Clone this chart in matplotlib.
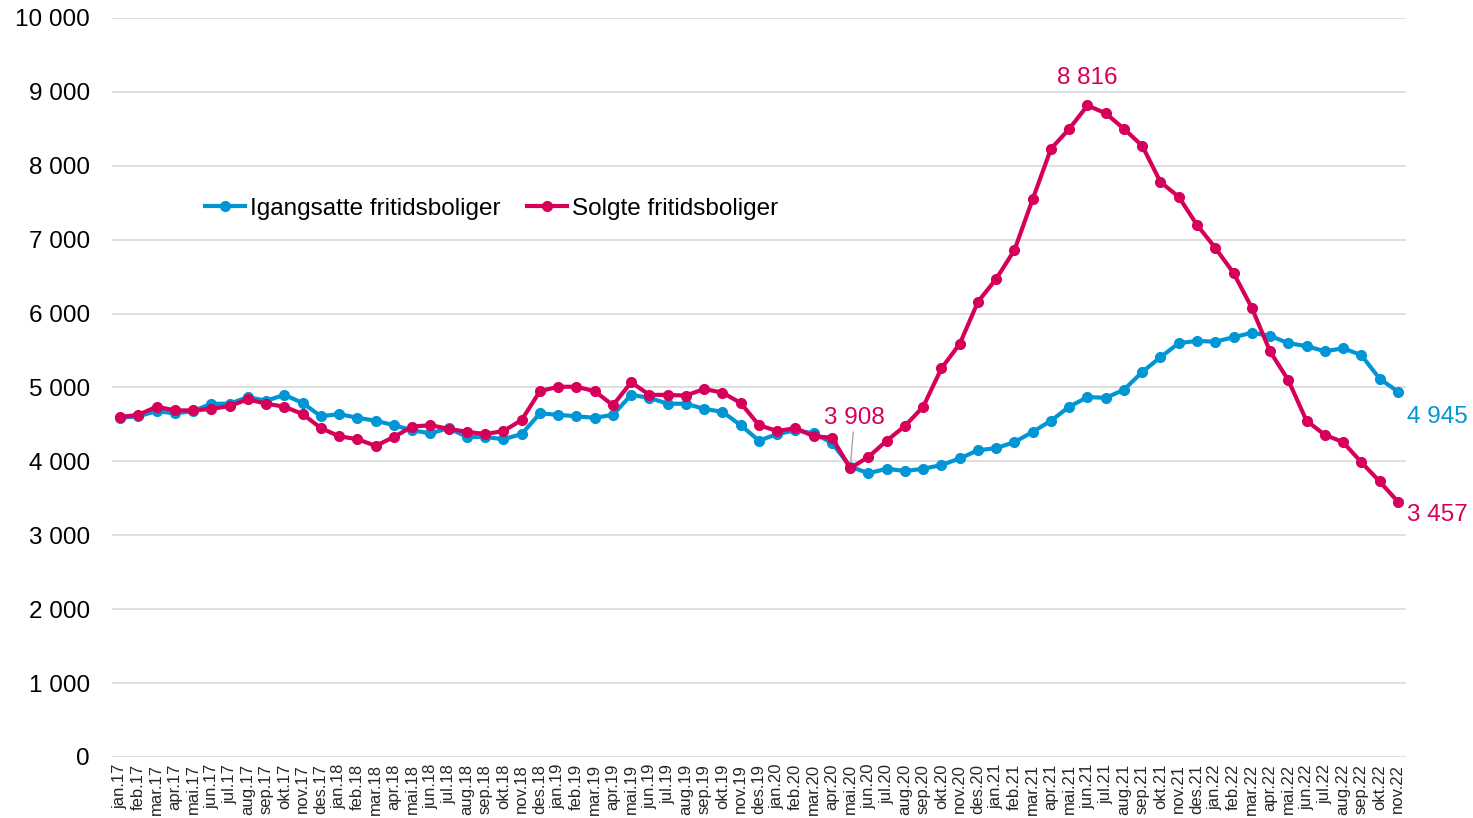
import matplotlib
matplotlib.use("Agg")
import matplotlib.pyplot as plt
from matplotlib.ticker import FuncFormatter

plt.rcParams['font.family'] = ['Liberation Sans', 'DejaVu Sans']

# Månedsetiketter jan.17 - nov.22
mnd = ["jan", "feb", "mar", "apr", "mai", "jun", "jul", "aug", "sep", "okt", "nov", "des"]
labels = [f"{m}.{y}" for y in range(17, 23) for m in mnd][:71]

igangsatte = [4590, 4610, 4680, 4650, 4680, 4780, 4780, 4870, 4820, 4900,
              4790, 4610, 4640, 4590, 4550, 4490, 4420, 4380, 4450, 4330,
              4330, 4300, 4370, 4650, 4630, 4610, 4590, 4630, 4900, 4860,
              4780, 4780, 4710, 4670, 4490, 4280, 4370, 4420, 4380, 4250,
              3930, 3840, 3900, 3870, 3900, 3950, 4040, 4150, 4180, 4260,
              4400, 4550, 4740, 4870, 4860, 4970, 5210, 5410, 5600, 5630,
              5620, 5680, 5740, 5700, 5600, 5560, 5490, 5530, 5440, 5120,
              4945]

solgte = [4600, 4630, 4740, 4690, 4690, 4710, 4750, 4840, 4780, 4740,
          4640, 4450, 4340, 4300, 4210, 4330, 4470, 4490, 4440, 4400,
          4370, 4410, 4560, 4950, 5010, 5010, 4950, 4760, 5070, 4900,
          4900, 4890, 4980, 4930, 4790, 4490, 4410, 4450, 4340, 4320,
          3908, 4060, 4280, 4480, 4740, 5260, 5590, 6160, 6470, 6860,
          7550, 8230, 8500, 8816, 8710, 8500, 8270, 7780, 7580, 7200,
          6890, 6550, 6080, 5490, 5100, 4550, 4360, 4260, 3990, 3730,
          3457]

blaa = "#0096D6"
roed = "#D6005A"
fs = 17.5

fig = plt.figure(figsize=(14.73, 8.18), dpi=100)
ax = fig.add_axes([0.076, 0.0746, 0.8785, 0.9034])

x = list(range(len(labels)))
ax.plot(x, igangsatte, color=blaa, lw=3.0, marker="o", ms=7, label="Igangsatte fritidsboliger", zorder=3)
ax.plot(x, solgte, color=roed, lw=3.0, marker="o", ms=7, label="Solgte fritidsboliger", zorder=4)

ax.set_ylim(0, 10000)
ax.set_xlim(-0.45, 70.45)
ax.set_yticks(range(0, 10001, 1000))
ax.yaxis.set_major_formatter(FuncFormatter(lambda v, p: f"{int(v):,}".replace(",", " ")))
ax.set_xticks(x)
ax.set_xticklabels(labels, rotation=90, fontsize=12, color="#262626")
ax.tick_params(axis="y", labelsize=fs, length=0, pad=16)
ax.tick_params(axis="x", length=0, pad=5)
ax.grid(axis="y", color="#d9d9d9", lw=1.2)
ax.set_axisbelow(True)
for s in ax.spines.values():
    s.set_visible(False)

# Dataetiketter
i_max = solgte.index(max(solgte))
ax.annotate("8 816", (i_max, solgte[i_max]), xytext=(0, 12), textcoords="offset points",
            ha="center", va="bottom", color=roed, fontsize=fs)
i_min = 40
ax.annotate("3 908", (i_min, solgte[i_min]), xytext=(3, 28), textcoords="offset points",
            ha="center", va="bottom", color=roed, fontsize=fs,
            arrowprops=dict(arrowstyle="-", color="#a6a6a6", lw=1, shrinkA=0, shrinkB=2))
ax.annotate("4 945", (70, igangsatte[-1]), xytext=(7, -18), textcoords="offset points",
            ha="left", va="center", color=blaa, fontsize=fs, annotation_clip=False)
ax.annotate("3 457", (70, solgte[-1]), xytext=(7, -10), textcoords="offset points",
            ha="left", va="center", color=roed, fontsize=fs, annotation_clip=False)

ax.legend(loc="center left", bbox_to_anchor=(0.072, 0.742), ncol=2, frameon=False,
          fontsize=fs, handlelength=1.65, handletextpad=0.2, columnspacing=1.1,
          borderpad=0, borderaxespad=0)

fig.savefig("out.png", dpi=100)
